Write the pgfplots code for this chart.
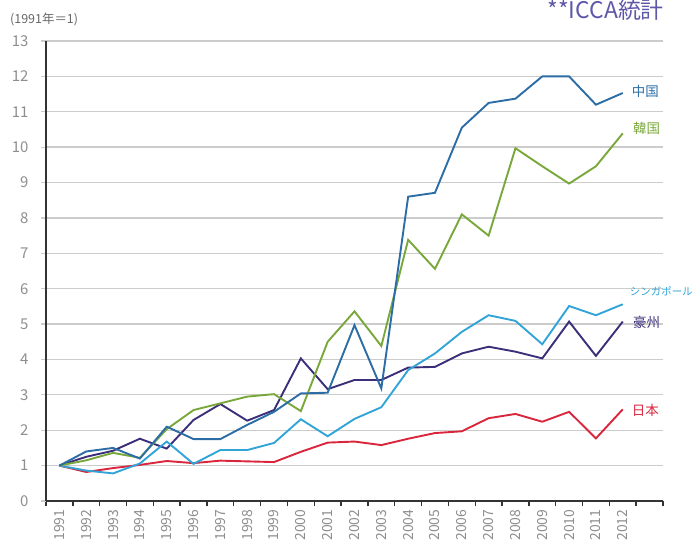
\documentclass[border=0pt]{standalone}
\usepackage{fontspec}
\setmainfont{Noto Sans CJK JP}
\usepackage{pgfplots}
\pgfplotsset{compat=1.18}
\definecolor{cChina}{HTML}{2C6DA5}
\definecolor{cKorea}{HTML}{79A83A}
\definecolor{cSing}{HTML}{32A4D8}
\definecolor{cAus}{HTML}{3B2F7A}
\definecolor{cJap}{HTML}{D9263C}
\definecolor{cGrid}{HTML}{CCCCCC}
\definecolor{cTick}{HTML}{8E8E8E}
\definecolor{cTitle}{HTML}{5E58A8}
\begin{document}
\begin{tikzpicture}
\useasboundingbox (0,0) rectangle (693bp,550bp);
\begin{axis}[
  at={(46bp,49bp)}, anchor=south west,
  scale only axis, width=617bp, height=460bp,
  xmin=-0.5, xmax=22.5, ymin=0, ymax=13,
  axis x line*=bottom, axis y line*=left,
  axis line style={line width=1.6bp, color=black!80, -},
  xtick={-0.5,0.5,...,22.5},
  x tick label as interval,
  xticklabels={1991,1992,1993,1994,1995,1996,1997,1998,1999,2000,2001,2002,2003,2004,2005,2006,2007,2008,2009,2010,2011,2012,{}},
  xticklabel style={rotate=90, anchor=east, font=\fontsize{14}{14}\selectfont, text=cTick},
  x tick style={line width=1.4bp, color=black!80},
  xtick align=outside, major tick length=5bp,
  ytick={0,1,...,13},
  yticklabel style={font=\fontsize{15}{15}\selectfont, text=cTick, xshift=-9bp},
  y tick style={line width=1.2bp, color=cGrid},
  ytick align=outside,
  ymajorgrids, grid style={line width=1.3bp, color=cGrid},
  /pgf/number format/assume math mode=true,
  clip=false,
  every axis plot/.append style={line width=1.9bp, no markers},
]
\addplot[cJap] coordinates {(0,1.0)(1,0.82)(2,0.93)(3,1.02)(4,1.13)(5,1.07)(6,1.14)(7,1.12)(8,1.1)(9,1.39)(10,1.65)(11,1.68)(12,1.58)(13,1.76)(14,1.92)(15,1.97)(16,2.34)(17,2.46)(18,2.24)(19,2.52)(20,1.77)(21,2.59)};
\addplot[cAus] coordinates {(0,1.0)(1,1.25)(2,1.42)(3,1.76)(4,1.48)(5,2.29)(6,2.74)(7,2.27)(8,2.57)(9,4.03)(10,3.16)(11,3.42)(12,3.42)(13,3.77)(14,3.79)(15,4.17)(16,4.36)(17,4.22)(18,4.03)(19,5.07)(20,4.1)(21,5.07)};
\addplot[cSing] coordinates {(0,1.0)(1,0.86)(2,0.78)(3,1.06)(4,1.68)(5,1.05)(6,1.44)(7,1.44)(8,1.64)(9,2.31)(10,1.83)(11,2.32)(12,2.65)(13,3.7)(14,4.17)(15,4.78)(16,5.25)(17,5.09)(18,4.43)(19,5.51)(20,5.25)(21,5.56)};
\addplot[cKorea] coordinates {(0,1.0)(1,1.15)(2,1.36)(3,1.22)(4,2.03)(5,2.57)(6,2.76)(7,2.95)(8,3.02)(9,2.54)(10,4.5)(11,5.36)(12,4.38)(13,7.38)(14,6.56)(15,8.1)(16,7.5)(17,9.97)(18,9.46)(19,8.97)(20,9.46)(21,10.39)};
\addplot[cChina] coordinates {(0,1.0)(1,1.4)(2,1.5)(3,1.2)(4,2.1)(5,1.75)(6,1.75)(7,2.15)(8,2.52)(9,3.04)(10,3.06)(11,4.97)(12,3.18)(13,8.6)(14,8.71)(15,10.55)(16,11.25)(17,11.37)(18,12.0)(19,12.0)(20,11.2)(21,11.53)};
\node[anchor=west, text=cChina, font=\fontsize{13.5}{13.5}\selectfont, inner sep=0pt] at (axis cs:21.33,11.58) {中国};
\node[anchor=west, text=cKorea, font=\fontsize{13.5}{13.5}\selectfont, inner sep=0pt] at (axis cs:21.38,10.54) {韓国};
\node[anchor=west, text=cSing, font=\fontsize{10.5}{10.5}\selectfont, inner sep=0pt] at (axis cs:21.26,5.93) {シンガポール};
\node[anchor=west, text=cAus, font=\fontsize{13.5}{13.5}\selectfont, inner sep=0pt] at (axis cs:21.38,5.06) {豪州};
\node[anchor=west, text=cJap, font=\fontsize{13.5}{13.5}\selectfont, inner sep=0pt] at (axis cs:21.33,2.57) {日本};
\end{axis}
\node[anchor=base west, text=black!60, font=\fontsize{12.5}{12.5}\selectfont, inner sep=0pt] at (10bp,526bp) {(1991年＝1)};
\node[anchor=base east, text=cTitle, font=\fontsize{23}{23}\selectfont, inner sep=0pt] at (664bp,531bp) {**ICCA統計};
\end{tikzpicture}
\end{document}
